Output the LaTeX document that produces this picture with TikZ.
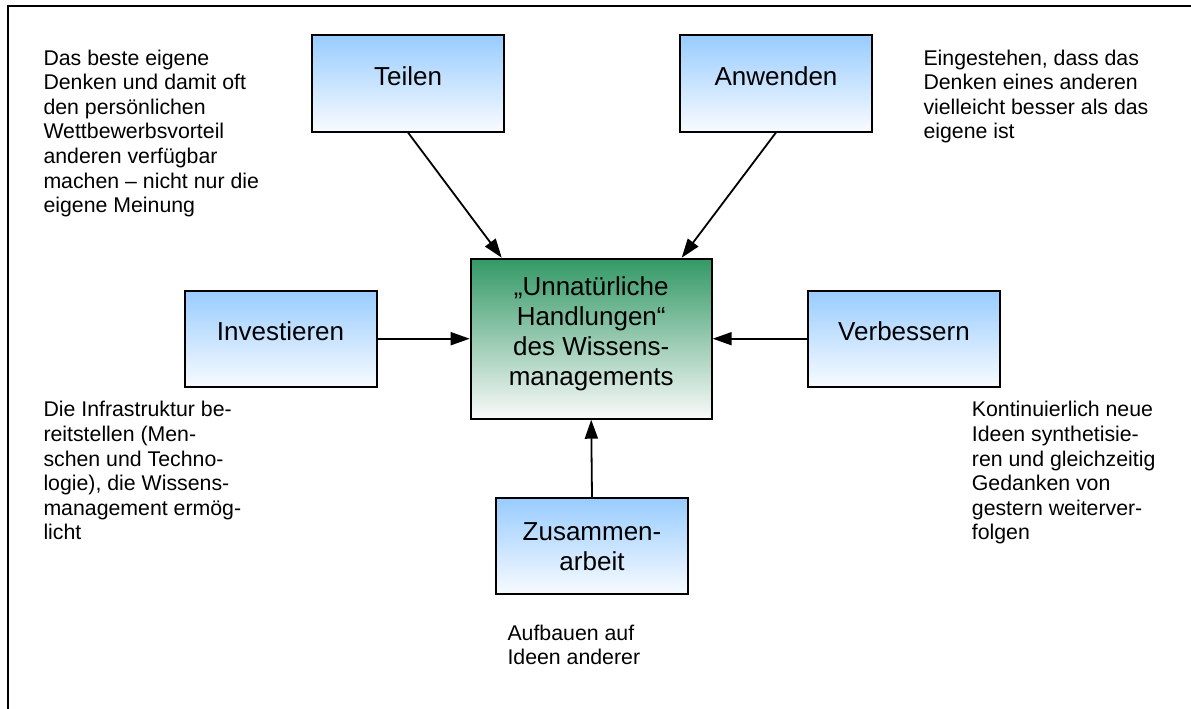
\documentclass[tikz,border=0pt]{standalone}
\usepackage{fontspec}
\setmainfont{Liberation Sans}
\usetikzlibrary{arrows.meta}
\definecolor{boxblue}{RGB}{153,204,255}
\definecolor{boxwhite}{RGB}{248,251,255}
\definecolor{coregreen}{RGB}{51,153,102}
\definecolor{corewhite}{RGB}{250,250,250}
\begin{document}
\begin{tikzpicture}[x=1pt,y=-1pt,
  actbox/.style={draw=black, line width=2pt, top color=boxblue, bottom color=boxwhite,
    minimum width=192pt, minimum height=96pt, inner sep=0pt, align=center,
    font=\fontsize{26}{30}\selectfont},
  oneline/.style={text height=0.72em, text depth=0.3em},
  corebox/.style={draw=black, line width=2pt, top color=coregreen, bottom color=corewhite,
    minimum width=241pt, minimum height=160pt, inner sep=0pt},
  coretext/.style={align=center, inner sep=0pt, font=\fontsize{26}{30}\selectfont},
  note/.style={anchor=north west, align=left, inner sep=0pt,
    font=\fontsize{21.3}{24.6}\selectfont},
  link/.style={line width=1.8pt, -{Triangle[length=19pt,width=13pt]}},
  frame/.style={line width=2pt}
]
\useasboundingbox (0,0) rectangle (1191,709);

% outer frame (top and left edges)
\draw[frame] (7.5,709) -- (7.5,6.5) -- (1191,6.5);

% activity boxes
\node[actbox, oneline] (teilen)     at (408,83.5)    {Teilen};
\node[actbox, oneline] (anwenden)   at (776,83.5)    {Anwenden};
\node[actbox, oneline] (invest)     at (280.5,338.7) {Investieren};
\node[actbox, oneline] (verbessern) at (904,338.7)   {Verbessern};
\node[actbox]          (zusammen)   at (592,546.3)   {Zusammen-\\arbeit};

% central box
\node[corebox] (core) at (591.2,338.7) {};
\node[coretext] (corelabel) at ([yshift=4.6pt]core.center)
  {„Unnatürliche\\Handlungen“\\des Wissens-\\managements};

% connectors
\coordinate (teilenIn)   at ([xshift=32pt]core.north west);
\coordinate (anwendenIn) at ([xshift=-31pt]core.north east);
\draw[link] (teilen.south)     -- (teilenIn);
\draw[link] (anwenden.south)   -- (anwendenIn);
\draw[link] (invest.east)      -- (core.west);
\draw[link] (verbessern.west)  -- (core.east);
\draw[link] (zusammen.north)   -- (core.south);

% explanatory notes
\node[note] (noteTeilen) at (43.3,49.5)
  {Das beste eigene\\Denken und damit oft\\den persönlichen\\Wettbewerbsvorteil\\anderen verfügbar\\machen – nicht nur die\\eigene Meinung};
\node[note] (noteAnwenden) at (923.3,49.5)
  {Eingestehen, dass das\\Denken eines anderen\\vielleicht besser als das\\eigene ist};
\node[note] (noteInvest) at (43.3,401.2)
  {Die Infrastruktur be-\\reitstellen (Men-\\schen und Techno-\\logie), die Wissens-\\management ermög-\\licht};
\node[note] (noteVerbessern) at (971.7,401.2)
  {Kontinuierlich neue\\Ideen synthetisie-\\ren und gleichzeitig\\Gedanken von\\gestern weiterver-\\folgen};
\node[note] (noteZusammen) at (507.3,624.5)
  {Aufbauen auf\\Ideen anderer};
\end{tikzpicture}
\end{document}
